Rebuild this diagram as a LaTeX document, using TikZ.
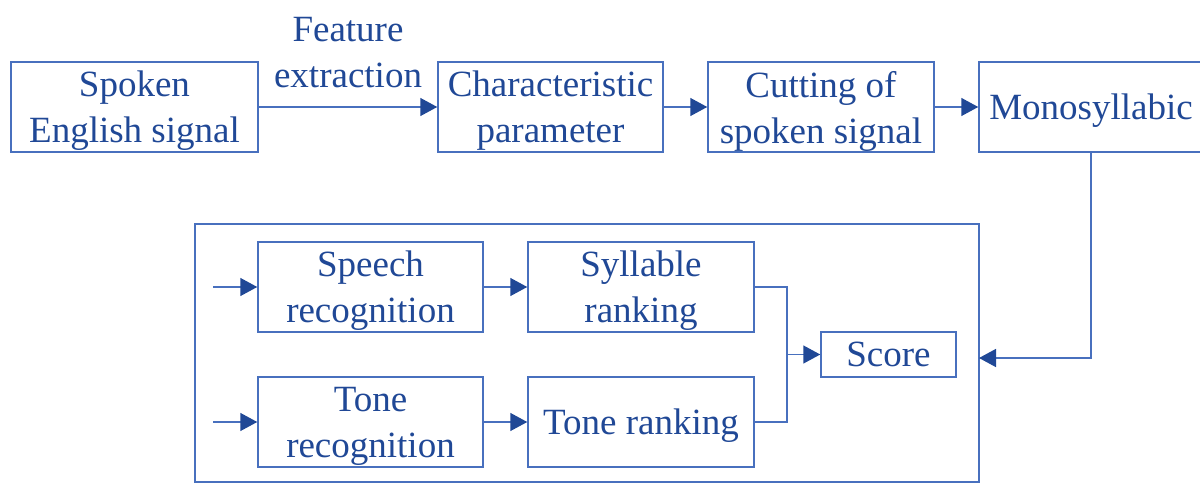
\documentclass[tikz,border=0pt]{standalone}
\usepackage{fontspec}
\setmainfont{Liberation Serif}
\usetikzlibrary{arrows.meta}
\definecolor{inkblue}{RGB}{32,72,150}
\definecolor{lineblue}{RGB}{72,112,190}
\begin{document}
\begin{tikzpicture}[x=1pt,y=-1pt,
  font=\fontsize{37}{46}\selectfont,
  every node/.style={text=inkblue},
  blk/.style={draw=lineblue,line width=1.5pt,inner sep=0pt,align=center,
    minimum height=90pt,text depth=0pt},
  arr/.style={draw=lineblue,line width=1.5pt,
    -{Triangle[length=17pt,width=18pt,fill=inkblue,color=inkblue]}},
  ln/.style={draw=lineblue,line width=1.5pt}]
\useasboundingbox (0,0) rectangle (1200,484);
\fill[white] (0,0) rectangle (1200,484);

% top row
\node[blk,minimum width=247pt] (sig) at (134.5,107) {Spoken\\English signal};
\node[blk,minimum width=225pt] (par) at (550.5,107) {Characteristic\\parameter};
\node[blk,minimum width=226pt] (cut) at (821,107) {Cutting of\\spoken signal};
\node[blk,minimum width=224pt] (mono) at (1091,107) {Monosyllabic};
\node[align=center,inner sep=0pt] (fe) at (348,53) {Feature\\extraction};

\draw[arr] (sig) -- (par);
\draw[arr] (par) -- (cut);
\draw[arr] (cut) -- (mono);

% evaluation block
\node[draw=lineblue,line width=1.5pt,minimum width=784pt,minimum height=258pt,
  inner sep=0pt] (outer) at (587,353) {};
\node[blk,minimum width=225pt] (srec) at (370.5,287) {Speech\\recognition};
\node[blk,minimum width=225pt] (trec) at (370.5,422) {Tone\\recognition};
\node[blk,minimum width=226pt] (srank) at (641,287) {Syllable\\ranking};
\node[blk,minimum width=226pt] (trank) at (641,422) {Tone ranking};
\node[blk,minimum width=135pt,minimum height=45pt] (score) at (888.5,354.5) {Score};

\coordinate (in1) at (213,287);
\coordinate (in2) at (213,422);
\coordinate (mrg) at (787,354.5);
\coordinate (back) at (979,358);

\draw[arr] (in1) -- (srec);
\draw[arr] (in2) -- (trec);
\draw[arr] (srec) -- (srank);
\draw[arr] (trec) -- (trank);
\draw[ln] (srank.east) -| (mrg) |- (trank.east);
\draw[arr] (mrg) -- (score);
\draw[arr] (mono.south) |- (back);
\end{tikzpicture}
\end{document}
